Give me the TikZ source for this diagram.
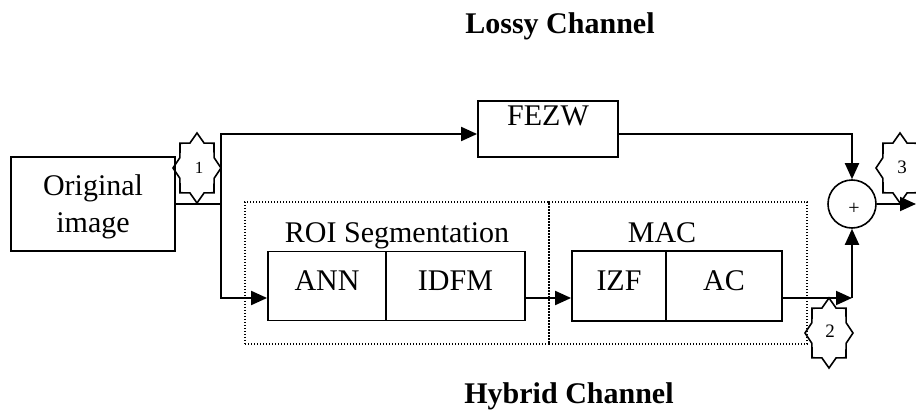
\documentclass[tikz,border=0pt]{standalone}
\usepackage{fontspec}
\setmainfont{Liberation Serif}
\usetikzlibrary{arrows.meta,calc}
\newcommand\sealstar[1]{%
  \draw[starline,shift={(#1)}] (0:24 and 35) -- (22.5:18.5 and 27) -- (45:24 and 35) -- (67.5:18.5 and 27)
   -- (90:24 and 35) -- (112.5:18.5 and 27) -- (135:24 and 35) -- (157.5:18.5 and 27)
   -- (180:24 and 35) -- (202.5:18.5 and 27) -- (225:24 and 35) -- (247.5:18.5 and 27)
   -- (270:24 and 35) -- (292.5:18.5 and 27) -- (315:24 and 35) -- (337.5:18.5 and 27) -- cycle;}
\begin{document}
\begin{tikzpicture}[x=1pt,y=-1pt,
  ln/.style={line width=1.9pt},
  arr/.style={ln,-{Triangle[length=16pt,width=14pt]}},
  box/.style={draw,line width=1.8pt,inner sep=0pt},
  grp/.style={draw,line width=1.3pt,dash pattern=on 1.3pt off 1.7pt,inner sep=0pt,minimum height=142pt},
  txt/.style={font=\fontsize{30}{37}\selectfont,inner sep=0pt},
  ttl/.style={font=\bfseries\fontsize{30}{36}\selectfont,inner sep=0pt},
  num/.style={font=\fontsize{19}{22}\selectfont,inner sep=0pt},
  starline/.style={line width=1.6pt,line join=miter},
]
\useasboundingbox (0,0) rectangle (916,412);
\clip (0,0) rectangle (916,412);

% titles
\node[ttl,anchor=base] (lossy) at (560,34) {Lossy Channel};
\node[ttl,anchor=base] (hybrid) at (569,403) {Hybrid Channel};

% dotted groups
\node[grp,minimum width=304pt] (roi) at (397,273) {};
\node[grp,minimum width=258pt] (mac) at (678,273) {};
\node[txt,anchor=base] (roit) at (397,242) {ROI Segmentation};
\node[txt,anchor=base] (mact) at (662,242) {MAC};

% boxes
\node[box,minimum width=164pt,minimum height=94pt] (orig) at (93,204) {};
\node[txt,align=center,anchor=base] (origt) at (93,232) {Original\\image};
\node[box,minimum width=140pt,minimum height=56pt] (fezw) at (548,129) {};
\node[txt,anchor=base] (fezwt) at (548,125) {FEZW};
\node[box,minimum width=118pt,minimum height=69pt] (ann) at (327,286) {};
\node[txt,anchor=base] (annt) at (327,290) {ANN};
\node[box,minimum width=139pt,minimum height=69pt] (idfm) at (455.5,286) {};
\node[txt,anchor=base] (idfmt) at (455.5,290) {IDFM};
\node[box,minimum width=94pt,minimum height=70pt] (izf) at (619,286) {};
\node[txt,anchor=base] (izft) at (619,290) {IZF};
\node[box,minimum width=116pt,minimum height=70pt] (ac) at (724,286) {};
\node[txt,anchor=base] (act) at (724,290) {AC};

% summing junction
\node[draw,circle,line width=1.6pt,minimum size=48pt,inner sep=0pt] (sum) at (852,204) {};
\node[num,font=\fontsize{20}{22}\selectfont] (plus) at (854,209) {+};

% coordinates
\coordinate (j1) at (221,204);
\coordinate (jt) at (221,134);
\coordinate (jb) at (221,298);
\coordinate (c2) at (852,298);
\coordinate (out) at (916,204);

% connectors
\draw[ln] (orig.east) -- (j1);
\draw[arr] (j1) -- (jt) -- (jt -| fezw.west);
\draw[arr] (j1) -- (jb) -- (jb -| ann.west);
\draw[arr] (jb -| idfm.east) -- (jb -| izf.west);
\draw[arr] (jb -| ac.east) -- (c2);
\draw[arr] (c2) -- (sum.south);
\draw[arr] (jt -| fezw.east) -- (jt -| sum) -- (sum.north);
\draw[arr] (sum.east) -- (out);

% stars
\node[num,font=\fontsize{17}{20}\selectfont] (s1) at (199,168) {1};
\coordinate (s1c) at (197,168);
\sealstar{s1c}
\node[num] (s2) at (830,331) {2};
\coordinate (s2c) at (829,333);
\sealstar{s2c}
\node[num] (s3) at (902,167) {3};
\coordinate (s3c) at (900,168);
\sealstar{s3c}
\end{tikzpicture}
\end{document}
